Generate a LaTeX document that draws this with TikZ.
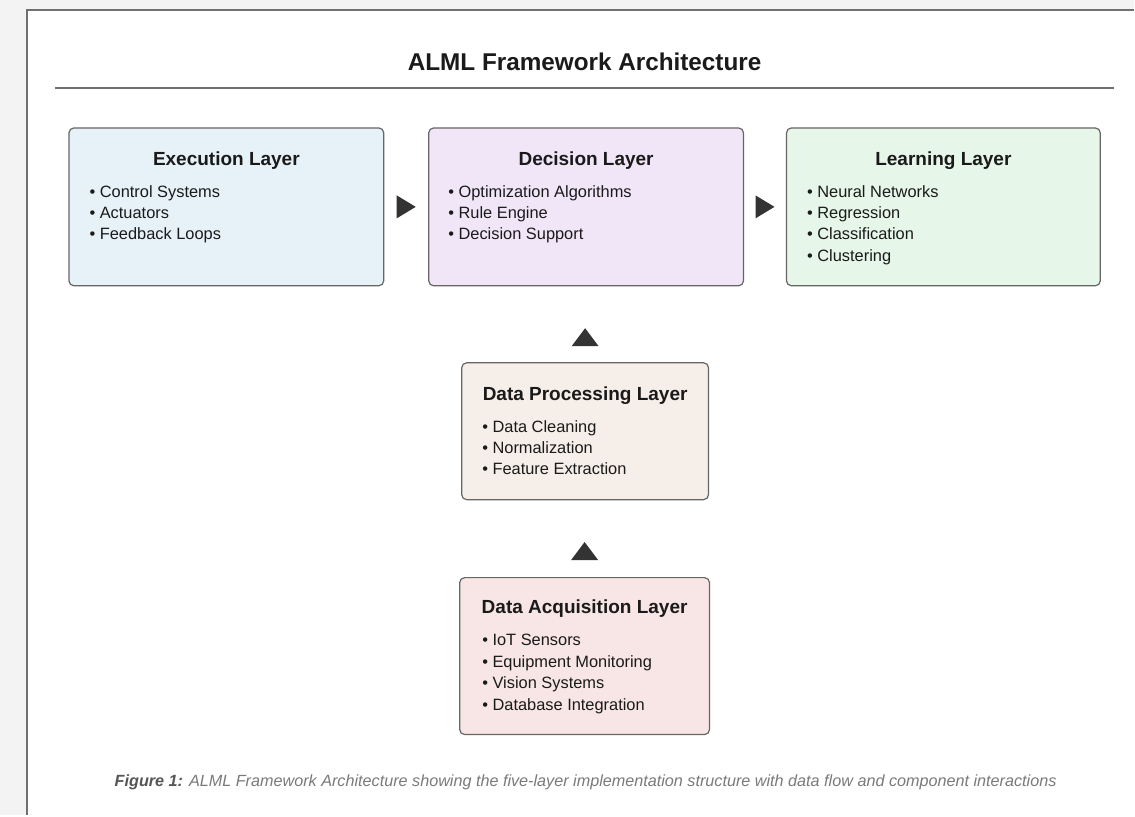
\documentclass[tikz,border=0pt]{standalone}
\usepackage{fontspec}
\setmainfont{Liberation Sans}
\usetikzlibrary{calc}
\definecolor{pagebg}{HTML}{F3F3F3}
\definecolor{framec}{HTML}{707070}
\definecolor{boxline}{HTML}{666666}
\definecolor{arrowc}{HTML}{333333}
\definecolor{textc}{HTML}{1A1A1A}
\definecolor{capc}{HTML}{7A7A7A}
\definecolor{capbold}{HTML}{555555}
\definecolor{execfill}{HTML}{E6F2F8}
\definecolor{decfill}{HTML}{F0E6F8}
\definecolor{learnfill}{HTML}{E6F6E8}
\definecolor{procfill}{HTML}{F6EEE8}
\definecolor{acqfill}{HTML}{F8E6E6}
\tikzset{
  layerbox/.style={draw=boxline, line width=1.2pt, rounded corners=5pt, inner sep=0pt},
  ltitle/.style={font=\bfseries\fontsize{19}{22}\selectfont, text=textc, inner sep=0pt},
  bul/.style={font=\fontsize{16.4}{19}\selectfont, text=textc, inner sep=0pt, text height=11pt, text depth=3pt, anchor=west},
  tri/.style={fill=arrowc},
}
\begin{document}
\begin{tikzpicture}[x=1pt,y=-1pt]
\fill[pagebg] (0,0) rectangle (1135,816);
\fill[white] (27,10) rectangle (1135,816);
\draw[framec,line width=1.5pt] (27,816) -- (27,10) -- (1135,10);
\useasboundingbox (0,0) rectangle (1135,816);

\node[font=\bfseries\fontsize{24.3}{28}\selectfont, text=textc] (title) at (585,62) {ALML Framework Architecture};
\coordinate (ruleL) at (55,88);
\coordinate (ruleR) at (1115,88);
\draw[framec, line width=1.3pt] (ruleL) -- (ruleR);

% boxes
\node[layerbox, fill=execfill, minimum width=315pt, minimum height=158pt] (exec) at (226.5,207) {};
\node[layerbox, fill=decfill, minimum width=315pt, minimum height=158pt] (dec) at (586.5,207) {};
\node[layerbox, fill=learnfill, minimum width=314pt, minimum height=158pt] (learn) at (944,207) {};
\node[layerbox, fill=procfill, minimum width=247pt, minimum height=137pt] (proc) at (585.5,431.5) {};
\node[layerbox, fill=acqfill, minimum width=250pt, minimum height=157pt] (acq) at (585,656.5) {};

% titles
\node[ltitle] (exec-t) at ($(exec.north)+(0,33)$) {Execution Layer};
\node[ltitle] (dec-t) at ($(dec.north)+(0,33)$) {Decision Layer};
\node[ltitle] (learn-t) at ($(learn.north)+(0,33)$) {Learning Layer};
\node[ltitle] (proc-t) at ($(proc.north)+(0,33)$) {Data Processing Layer};
\node[ltitle] (acq-t) at ($(acq.north)+(0,32)$) {Data Acquisition Layer};

% bullets
\foreach [count=\i] \t in {Control Systems, Actuators, Feedback Loops}
  \node[bul] (exec-b\i) at ($(exec.north west)+(21,66+21.3*\i-21.3)$) {• \t};
\foreach [count=\i] \t in {Optimization Algorithms, Rule Engine, Decision Support}
  \node[bul] (dec-b\i) at ($(dec.north west)+(20,66+21.3*\i-21.3)$) {• \t};
\foreach [count=\i] \t in {Neural Networks, Regression, Classification, Clustering}
  \node[bul] (learn-b\i) at ($(learn.north west)+(21,66+21.3*\i-21.3)$) {• \t};
\foreach [count=\i] \t in {Data Cleaning, Normalization, Feature Extraction}
  \node[bul] (proc-b\i) at ($(proc.north west)+(21,66+21.3*\i-21.3)$) {• \t};
\foreach [count=\i] \t in {IoT Sensors, Equipment Monitoring, Vision Systems, Database Integration}
  \node[bul] (acq-b\i) at ($(acq.north west)+(23,65+21.5*\i-21.5)$) {• \t};

% arrows (triangles)
\coordinate (a1) at ($(exec.east)!0.5!(dec.west)$);
\coordinate (a2) at ($(dec.east)!0.5!(learn.west)$);
\coordinate (a3) at ($(proc.north)+(0,-25)$);
\coordinate (a4) at ($(acq.north)+(0,-26)$);
\foreach \c in {a1,a2}
  \fill[tri] ($(\c)+(-9.5,-11.5)$) -- ($(\c)+(9.5,0)$) -- ($(\c)+(-9.5,11.5)$) -- cycle;
\foreach \c in {a3,a4}
  \fill[tri] ($(\c)+(-13.5,9)$) -- ($(\c)+(0,-9)$) -- ($(\c)+(13.5,9)$) -- cycle;

% caption
\node[font=\itshape\fontsize{16.2}{19}\selectfont, text=capc] (cap) at (586,783)
  {{\bfseries\color{capbold}Figure 1:} ALML Framework Architecture showing the five-layer implementation structure with data flow and component interactions};
\end{tikzpicture}
\end{document}
